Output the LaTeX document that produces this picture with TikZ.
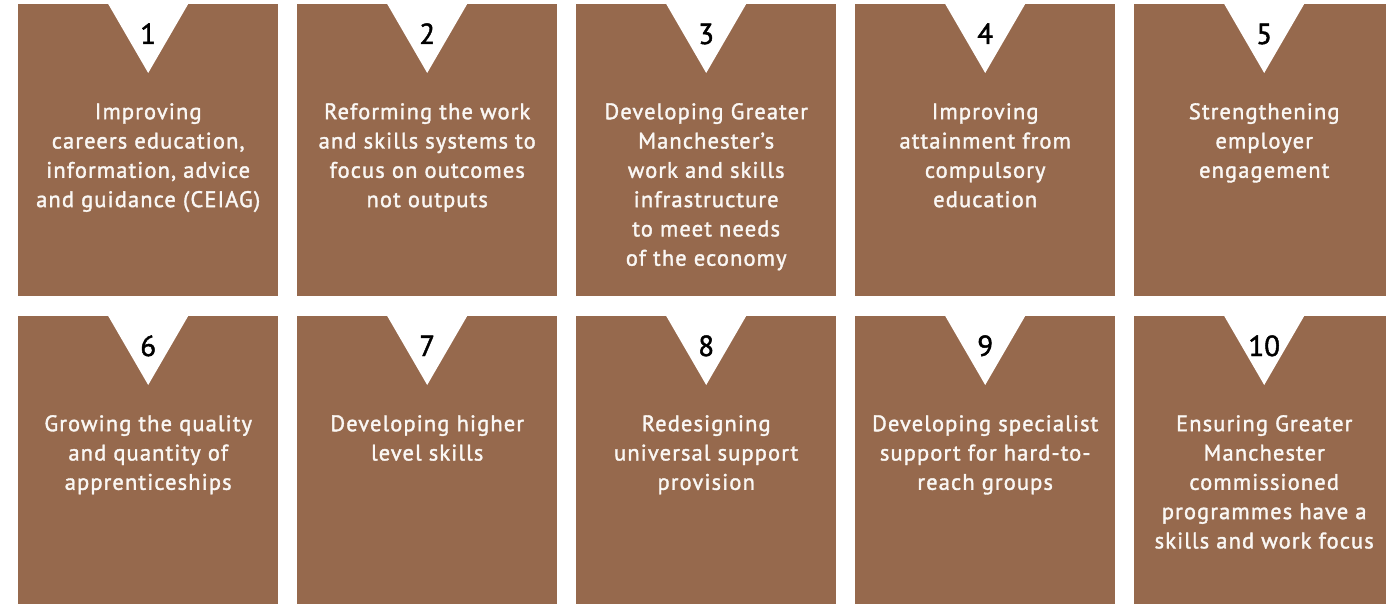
\documentclass[tikz,border=0pt]{standalone}
\usepackage{fontspec}
\setmainfont{PT Sans}
\newfontfamily\tilefont{PT Sans}[FakeBold=1.6, LetterSpace=5]
\newfontfamily\numfont{PT Sans}[FakeBold=1.6]
\definecolor{boxbrown}{HTML}{96694D}
\definecolor{txtwhite}{HTML}{FAF7F4}
\tikzset{
  tile/.style={fill=boxbrown, draw=none, minimum width=260pt, minimum height=292pt, inner sep=0pt, anchor=north west},
  notch/.style={fill=white, draw=none},
  numlabel/.style={font=\numfont\fontsize{29}{30}\selectfont, text=black, anchor=base, inner sep=0pt},
  tiletext/.style={font=\tilefont\fontsize{22.5}{29.3}\selectfont, text=txtwhite, align=center, anchor=north, inner sep=0pt},
}
\newcommand{\fl}{\rule{0pt}{17pt}}
\begin{document}
\begin{tikzpicture}[x=1pt,y=-1pt]
\useasboundingbox (0,0) rectangle (1386,604);
\foreach \i/\c/\r/\t in {
  1/0/0/{\fl Improving\\careers education,\\information, advice\\and guidance (CEIAG)},
  2/1/0/{\fl Reforming the work\\and skills systems to\\focus on outcomes\\not outputs},
  3/2/0/{\fl Developing Greater\\Manchester’s\\work and skills\\infrastructure\\to meet needs\\of the economy},
  4/3/0/{\fl Improving\\attainment from\\compulsory\\education},
  5/4/0/{\fl Strengthening\\employer\\engagement},
  6/0/1/{\fl Growing the quality\\and quantity of\\apprenticeships},
  7/1/1/{\fl Developing higher\\level skills},
  8/2/1/{\fl Redesigning\\universal support\\provision},
  9/3/1/{\fl Developing specialist\\support for hard-to-\\reach groups},
  10/4/1/{\fl Ensuring Greater\\Manchester\\commissioned\\programmes have a\\skills and work focus}} {
  \pgfmathsetmacro{\bx}{18+279*\c}
  \pgfmathsetmacro{\by}{4+312*\r}
  \node[tile] (box\i) at (\bx,\by) {};
  \coordinate (tl\i) at ([xshift=-40pt]box\i.north);
  \coordinate (tr\i) at ([xshift=40pt]box\i.north);
  \coordinate (tip\i) at ([yshift=-69pt]box\i.north);
  \fill[notch] (tl\i) -- (tr\i) -- (tip\i) -- cycle;
  \node[numlabel] (num\i) at ([yshift=-40pt]box\i.north) {\i};
  \node[tiletext] (txt\i) at ([yshift=-98pt]box\i.north) {\t};
}
\end{tikzpicture}
\end{document}
